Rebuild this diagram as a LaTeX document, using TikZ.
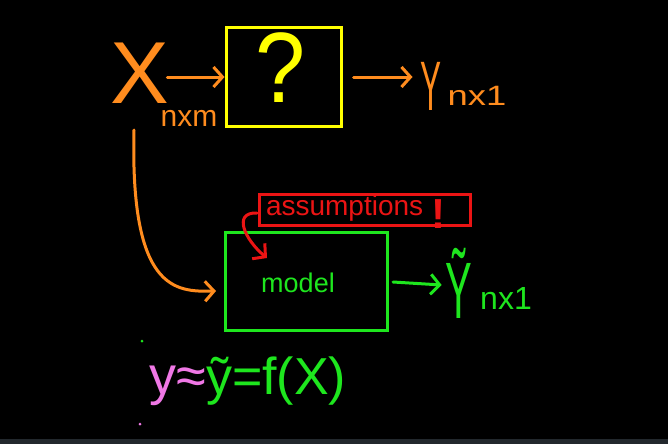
\documentclass[tikz,border=0pt]{standalone}
\usepackage{fontspec}
\setmainfont{Liberation Sans}
\usetikzlibrary{arrows.meta,calc}
\definecolor{hor}{RGB}{255,140,30}
\definecolor{hye}{RGB}{255,255,0}
\definecolor{hgr}{RGB}{30,230,30}
\definecolor{hre}{RGB}{235,20,20}
\definecolor{hpk}{RGB}{240,120,230}
\definecolor{strip}{RGB}{34,40,45}
\newcommand{\fsz}[1]{\fontsize{#1}{#1}\selectfont}
\tikzset{
  txt/.style={inner sep=0pt, outer sep=0pt},
  hand/.style={line width=3pt, line cap=round, line join=round},
  harrow/.style={hand, -{Straight Barb[length=9pt,width=20pt,line width=3pt]}},
  boxy/.style={draw, line width=3pt, inner sep=0pt}
}
\begin{document}
\begin{tikzpicture}[x=1pt,y=-1pt]
\useasboundingbox (0,0) rectangle (668,444);
\fill[black] (0,0) rectangle (668,444);
\fill[strip] (0,439) rectangle (668,444);

% top row
\node[txt, text=hor, font=\fsz{88}] (X) at (140,73) {X};
\node[txt, text=hor, font=\fsz{30}] (xsub) at (189,118) {nxm};
\node[boxy, draw=hye, minimum width=115pt, minimum height=98pt] (q) at (283.5,77) {};
\node[txt, text=hye, font=\fsz{100}, xscale=0.9] (qm) at (281,68) {?};
\node[txt, text=hor, font=\fsz{70}, xscale=0.45] (yout) at (431,86) {Y};
\node[txt, text=hor, font=\fsz{28}, xscale=1.3] (ysub) at (477,96) {nx1};
\draw[harrow, draw=hor] ([xshift=-2pt]X.east |- q.west) -- (q.west);
\draw[harrow, draw=hor] ([xshift=11pt]q.east) -- ([xshift=-8pt]yout.west |- q.east);

% middle row
\node[boxy, draw=hre, minimum width=211pt, minimum height=31pt] (assume) at (365,210) {};
\node[txt, text=hre, font=\fsz{28}, anchor=west] (atext) at (266,208) {assumptions};
\node[txt, text=hre, font=\bfseries\fsz{42}] (bang) at (438,214) {!};
\node[boxy, draw=hgr, minimum width=162pt, minimum height=98pt] (model) at (306.5,281) {};
\node[txt, text=hgr, font=\fsz{27}] (mtext) at (298,283) {model};
\node[txt, text=hgr, font=\fsz{80}, xscale=0.5] (yt) at (459,283) {Ỹ};
\node[txt, text=hgr, font=\fsz{32}] (ytsub) at (506,298) {nx1};
\coordinate (cstart) at (134,130);
\draw[harrow, draw=hor] (cstart) .. controls (130,290) and (175,292) .. ($(model.west)+(-8,10)$);
\draw[harrow, draw=hre] ([xshift=-1pt,yshift=-3pt]assume.west) .. controls (232,212) and (245,240) .. (267,258);
\draw[harrow, draw=hgr] ([xshift=4pt,yshift=-1pt]model.east) -- ([xshift=-4pt,yshift=-2pt]yt.west);

% bottom formula
\node[txt, text=hpk, font=\fsz{54}, anchor=east] (approx) at (206,386) {y≈};
\node[txt, text=hgr, font=\fsz{52}, anchor=west] (fx) at (206,381) {ỹ=f(X)};
\fill[hgr] (142,341) circle (1.5pt);
\fill[hpk] (140,424) circle (1.5pt);
\end{tikzpicture}
\end{document}
